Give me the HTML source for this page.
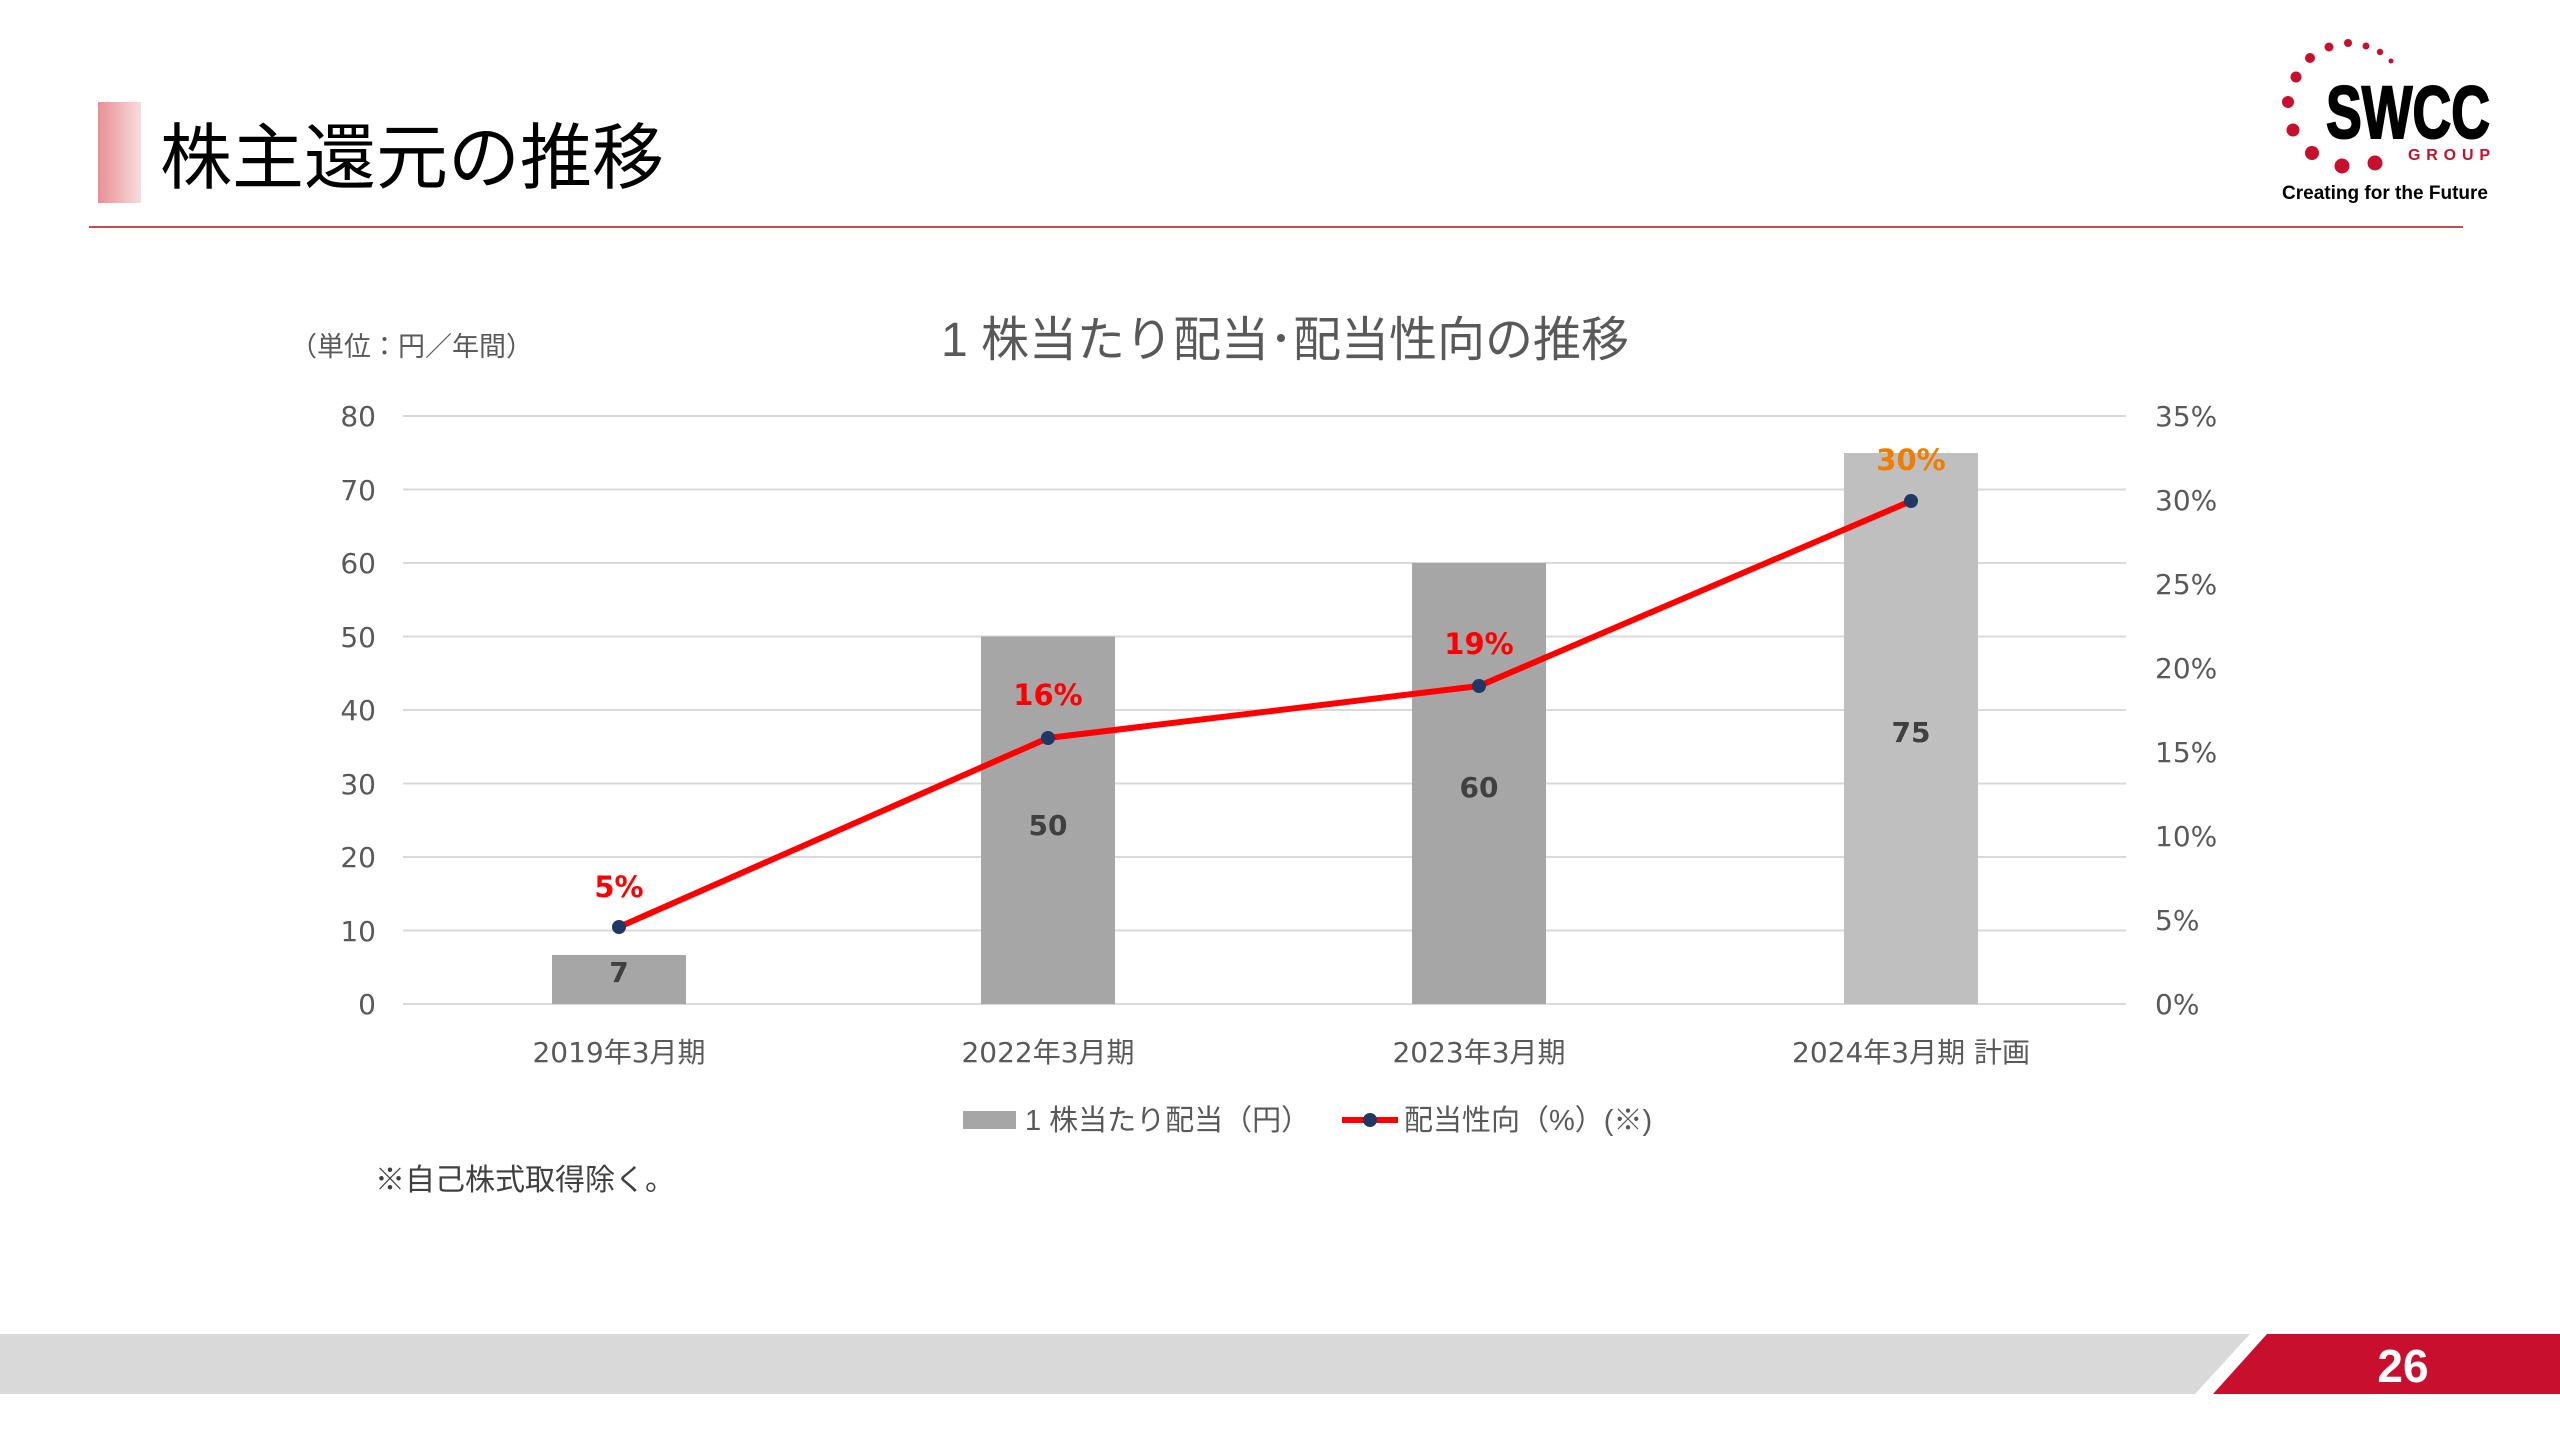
<!DOCTYPE html>
<html><head><meta charset="utf-8"><style>
html,body{margin:0;padding:0;background:#fff;}
svg{display:block;}
text{font-family:"Liberation Sans","Noto Sans CJK JP",sans-serif;}
.dv text{font-family:"DejaVu Sans","Noto Sans CJK JP",sans-serif;}
</style></head><body>
<svg width="2560" height="1440" viewBox="0 0 2560 1440" xmlns="http://www.w3.org/2000/svg">
<defs><linearGradient id="tg" x1="0" x2="1" y1="0" y2="0"><stop offset="0" stop-color="#e88f94"/><stop offset="1" stop-color="#f6dcdd"/></linearGradient></defs>
<rect x="98" y="102" width="43" height="101" fill="url(#tg)"/>
<text x="160" y="183" font-size="72" fill="#000">株主還元の推移</text>
<line x1="89" y1="227" x2="2463" y2="227" stroke="#c0504d" stroke-width="2"/>
<!-- logo -->
<g fill="#c8102e">
<circle cx="2348" cy="43" r="4"/><circle cx="2366" cy="46" r="3.5"/><circle cx="2380" cy="52" r="3.2"/><circle cx="2391" cy="61" r="2.5"/>
<circle cx="2329" cy="47" r="4.5"/><circle cx="2310" cy="58" r="5"/><circle cx="2296" cy="77" r="5.5"/><circle cx="2288" cy="102" r="6"/>
<circle cx="2293" cy="130" r="6.5"/><circle cx="2312" cy="153" r="7"/><circle cx="2342" cy="166" r="7.5"/><circle cx="2375" cy="163" r="7.5"/>
</g>
<text x="2326" y="138" font-size="74" font-weight="bold" fill="#000" stroke="#000" stroke-width="2" textLength="164" lengthAdjust="spacingAndGlyphs">SWCC</text>
<text x="2408" y="160" font-size="16" font-weight="bold" fill="#c8102e" textLength="82" lengthAdjust="spacing">GROUP</text>
<text x="2282" y="199" font-size="19" font-weight="bold" fill="#000" textLength="206" lengthAdjust="spacingAndGlyphs">Creating  for the Future</text>
<!-- chart -->
<text x="1285" y="356" font-size="48" fill="#595959" text-anchor="middle">1 株当たり配当･配当性向の推移</text>
<text x="290" y="356" font-size="27" fill="#595959">（単位：円／年間）</text>
<g stroke="#d9d9d9" stroke-width="2">
<line x1="403" x2="2126" y1="416" y2="416"/><line x1="403" x2="2126" y1="489.5" y2="489.5"/><line x1="403" x2="2126" y1="563" y2="563"/><line x1="403" x2="2126" y1="636.5" y2="636.5"/><line x1="403" x2="2126" y1="710" y2="710"/><line x1="403" x2="2126" y1="783.5" y2="783.5"/><line x1="403" x2="2126" y1="857" y2="857"/><line x1="403" x2="2126" y1="930.5" y2="930.5"/><line x1="403" x2="2126" y1="1004" y2="1004"/>
</g>
<g class="dv" font-size="28" fill="#595959" text-anchor="end">
<text x="376" y="426">80</text><text x="376" y="500">70</text><text x="376" y="573">60</text><text x="376" y="647">50</text><text x="376" y="720">40</text><text x="376" y="794">30</text><text x="376" y="867">20</text><text x="376" y="941">10</text><text x="376" y="1014">0</text>
</g>
<g class="dv" font-size="28" fill="#595959">
<text x="2155" y="426">35%</text><text x="2155" y="510">30%</text><text x="2155" y="594">25%</text><text x="2155" y="678">20%</text><text x="2155" y="762">15%</text><text x="2155" y="846">10%</text><text x="2155" y="930">5%</text><text x="2155" y="1014">0%</text>
</g>
<rect x="552" y="955" width="134" height="49" fill="#a6a6a6"/>
<rect x="981" y="636.5" width="134" height="367.5" fill="#a6a6a6"/>
<rect x="1412" y="563" width="134" height="441" fill="#a6a6a6"/>
<rect x="1844" y="453" width="134" height="551" fill="#bfbfbf"/>
<g class="dv" font-size="28" font-weight="bold" fill="#404040" text-anchor="middle">
<text x="619" y="982">7</text><text x="1048" y="835">50</text><text x="1479" y="797">60</text><text x="1911" y="742">75</text>
</g>
<polyline points="619,927 1048,738 1479,686 1911,501" fill="none" stroke="#ff0000" stroke-width="6" stroke-linejoin="round"/>
<g fill="#1f3864"><circle cx="619" cy="927" r="7"/><circle cx="1048" cy="738" r="7"/><circle cx="1479" cy="686" r="7"/><circle cx="1911" cy="501" r="7"/></g>
<g class="dv" font-size="29" font-weight="bold" text-anchor="middle">
<text x="619" y="897" fill="#ff0000">5%</text><text x="1048" y="705" fill="#ff0000">16%</text><text x="1479" y="654" fill="#ff0000">19%</text><text x="1911" y="470" fill="#f07d00">30%</text>
</g>
<g class="dv" font-size="28" fill="#595959" text-anchor="middle">
<text x="619" y="1062">2019年3月期</text><text x="1048" y="1062">2022年3月期</text><text x="1479" y="1062">2023年3月期</text><text x="1911" y="1062">2024年3月期 計画</text>
</g>
<rect x="963" y="1111" width="53" height="18" fill="#a6a6a6"/>
<text x="1025" y="1130" font-size="29" fill="#595959">1 株当たり配当（円）</text>
<line x1="1342" y1="1120" x2="1398" y2="1120" stroke="#ff0000" stroke-width="6"/>
<circle cx="1370" cy="1120" r="7" fill="#1f3864"/>
<text x="1404" y="1130" font-size="29" fill="#595959">配当性向（%）(※)</text>
<text x="375" y="1190" font-size="30" fill="#404040">※自己株式取得除く。</text>
<!-- footer -->
<polygon points="0,1334 2250,1334 2195,1394 0,1394" fill="#d9d9d9"/>
<polygon points="2267,1334 2560,1334 2560,1394 2213,1394" fill="#c8102e"/>
<text x="2403" y="1382" font-size="46" font-weight="bold" fill="#fff" text-anchor="middle">26</text>
</svg>
</body></html>
